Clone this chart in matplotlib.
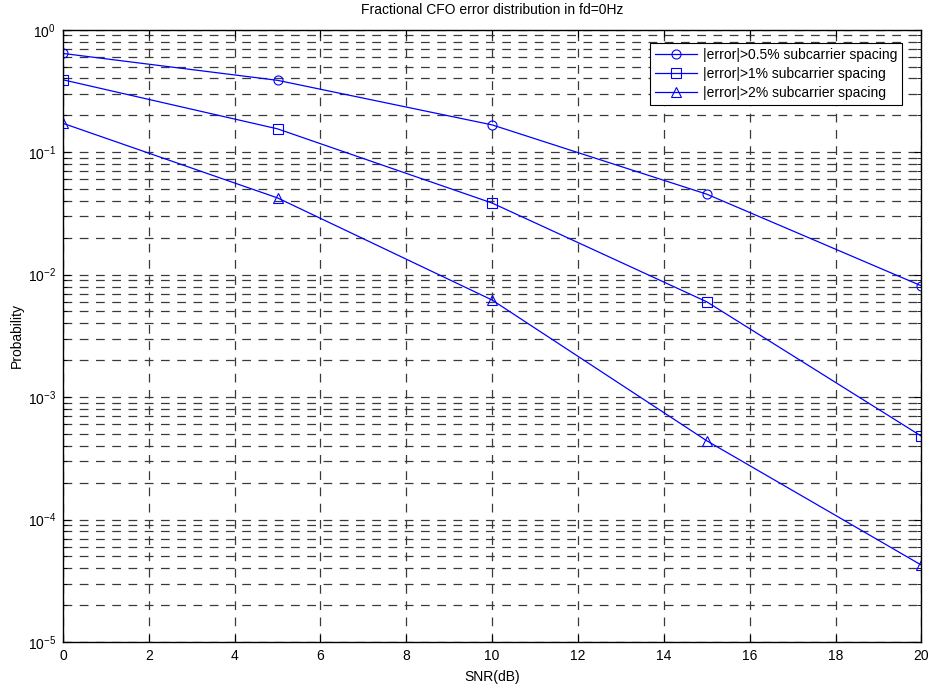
import matplotlib
matplotlib.use("Agg")
import matplotlib.pyplot as plt
from matplotlib.ticker import LogLocator, MultipleLocator, NullFormatter

plt.rcParams['font.family'] = ['Liberation Sans', 'DejaVu Sans']
plt.rcParams['mathtext.fontset'] = 'custom'
plt.rcParams['mathtext.rm'] = 'Liberation Sans'
plt.rcParams['mathtext.it'] = 'Liberation Sans'

# values
snr = [0, 5, 10, 15, 20]
p_half = [0.64, 0.386, 0.167, 0.0454, 0.0081]
p_one = [0.39, 0.155, 0.0384, 0.0060, 0.00048]
p_two = [0.172, 0.0423, 0.0062, 0.00044, 0.0000425]
labels = ['|error|>0.5% subcarrier spacing',
          '|error|>1% subcarrier spacing',
          '|error|>2% subcarrier spacing']

fig = plt.figure(figsize=(9.33, 6.86), dpi=100)
ax = fig.add_axes([0.0675, 0.0641, 0.92, 0.8926])

blue = '#0000ff'
for y, m, lab in zip([p_half, p_one, p_two], ['o', 's', '^'], labels):
    ax.semilogy(snr, y, color=blue, lw=0.9, marker=m, ms=6.5,
                mfc='none', mec=blue, mew=0.8, label=lab)

ax.set_xlim(0, 20)
ax.set_ylim(1e-5, 1)
ax.xaxis.set_major_locator(MultipleLocator(2))
ax.yaxis.set_major_locator(LogLocator(base=10, numticks=10))
ax.yaxis.set_minor_locator(LogLocator(base=10, subs=range(2, 10), numticks=20))
ax.yaxis.set_minor_formatter(NullFormatter())

gkw = dict(color='#3a3a3a', lw=0.9, linestyle=(0, (7, 6)))
ax.grid(True, which='major', axis='both', **gkw)
ax.grid(True, which='minor', axis='y', **gkw)
ax.set_axisbelow(True)

ax.tick_params(which='both', direction='in', top=True, right=True,
               labelsize=10, colors='black')
ax.tick_params(which='major', length=5, width=0.8, pad=5)
ax.tick_params(which='minor', length=3, width=0.6)
for s in ax.spines.values():
    s.set_linewidth(1.0)
    s.set_color('black')

ax.set_title('Fractional CFO error distribution in fd=0Hz', fontsize=10, pad=11.5)
ax.set_xlabel('SNR(dB)', fontsize=10, labelpad=5)
ax.set_ylabel('Probability', fontsize=10, labelpad=2.5)

leg = ax.legend(loc='upper right', bbox_to_anchor=(0.978, 0.979),
                borderaxespad=0, fontsize=10, fancybox=False, framealpha=1,
                edgecolor='black', handlelength=3.0, handletextpad=0.4,
                labelspacing=0.35, borderpad=0.4)
leg.get_frame().set_linewidth(0.8)

fig.savefig('out.png', dpi=100)
